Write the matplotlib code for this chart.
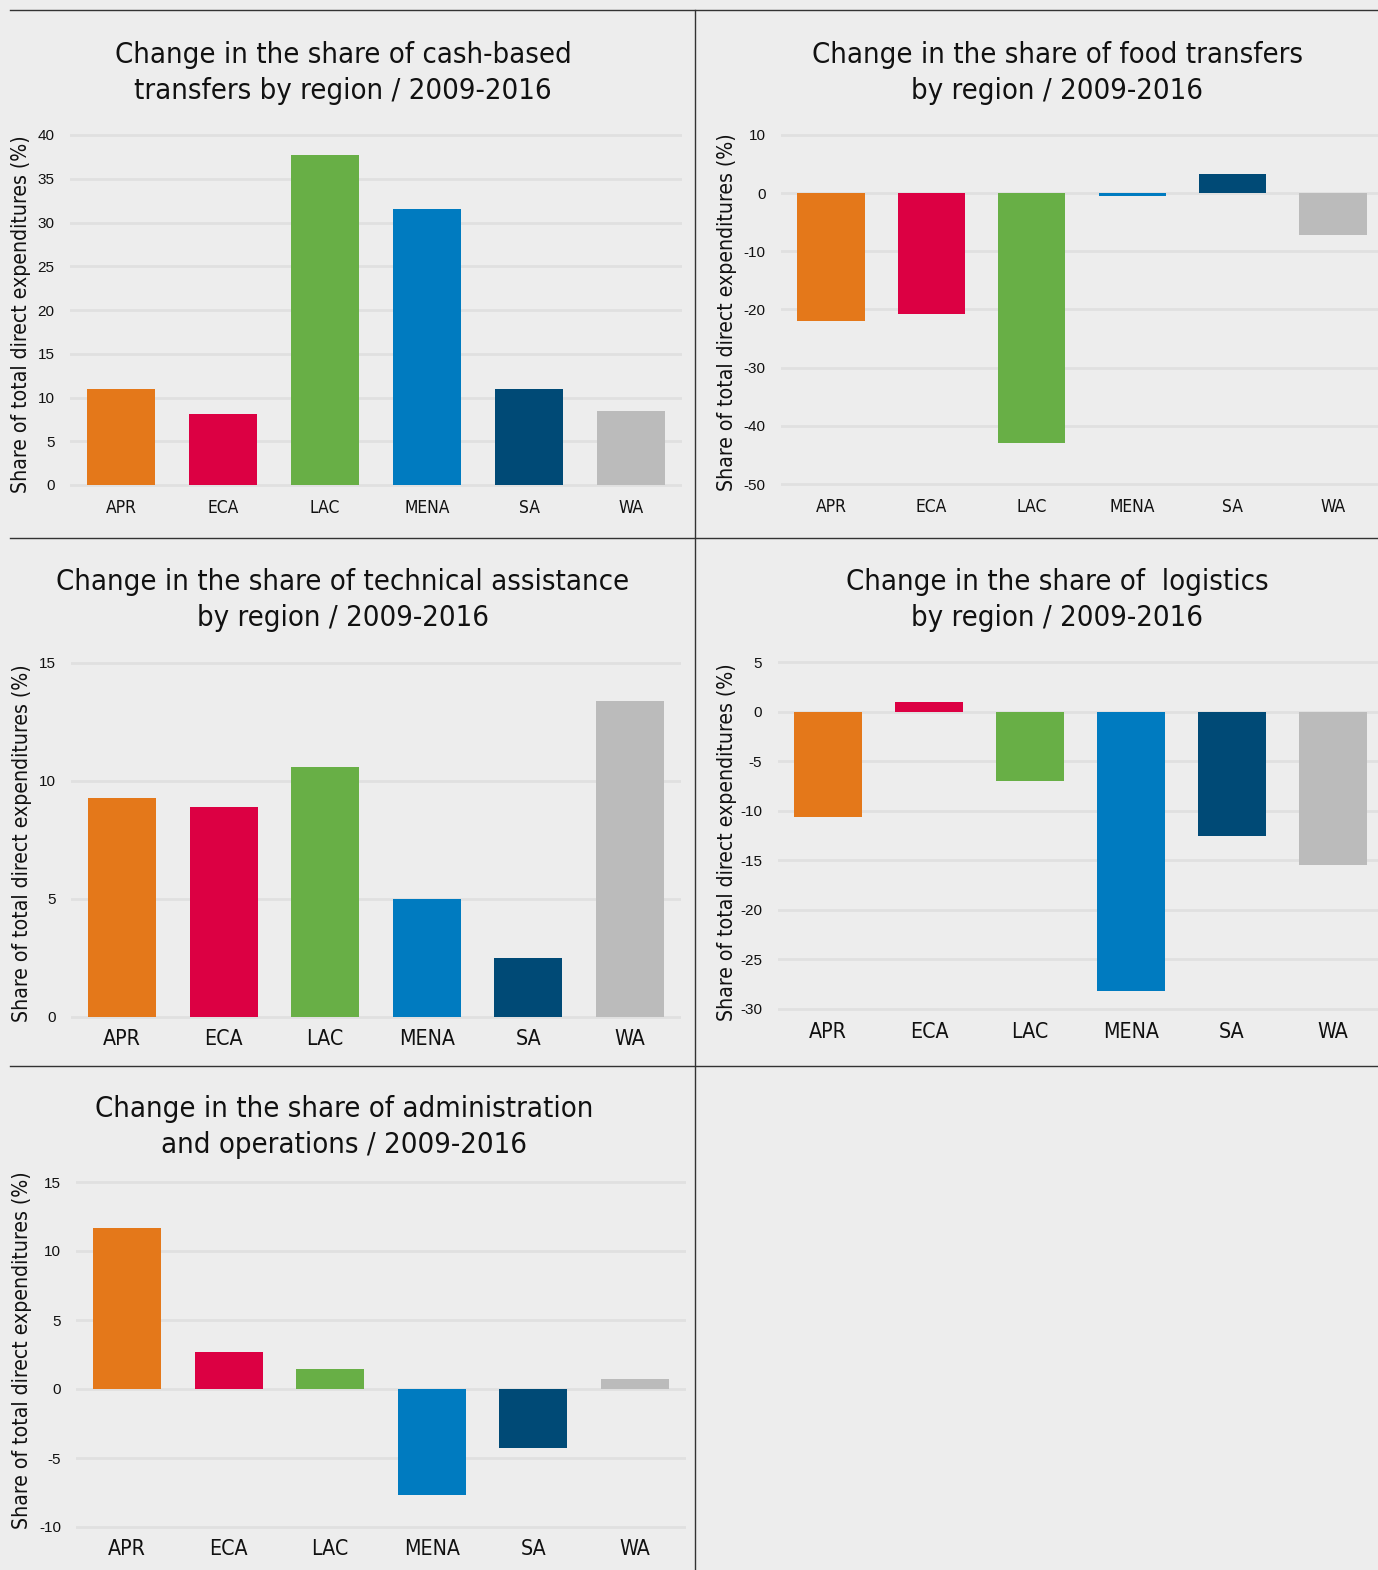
import matplotlib
matplotlib.use('Agg')
import matplotlib.pyplot as plt
from matplotlib.lines import Line2D

# ---------------- data ----------------
regions = ['APR', 'ECA', 'LAC', 'MENA', 'SA', 'WA']
region_colors = ['#E4781A', '#DC0043', '#68AF46', '#007BC0', '#004A76', '#BBBBBB']

cash_based = [11.0, 8.1, 37.7, 31.6, 11.0, 8.5]
food_transfers = [-21.9, -20.7, -42.9, -0.5, 3.3, -7.2]
technical_assistance = [9.3, 8.9, 10.6, 5.0, 2.5, 13.4]
logistics = [-10.6, 1.0, -7.0, -28.2, -12.5, -15.5]
admin_operations = [11.7, 2.7, 1.45, -7.7, -4.3, 0.7]

titles = [
    'Change in the share of cash-based\ntransfers by region / 2009-2016',
    'Change in the share of food transfers\nby region / 2009-2016',
    'Change in the share of technical assistance\nby region / 2009-2016',
    'Change in the share of  logistics\nby region / 2009-2016',
    'Change in the share of administration\nand operations / 2009-2016',
]
ylabel = 'Share of total direct expenditures (%)'

# ---------------- layout ----------------
W, H = 1378, 1570
BG = '#EDEDED'
GRID = '#E0E0E0'
fig = plt.figure(figsize=(W / 100, H / 100), dpi=100, facecolor=BG)

TITLE_FONT = dict(family='DejaVu Sans', stretch='condensed')


def make_axes(x0c, x5c, v_top, p_top, v_bot, p_bot, ylim):
    sp = (x5c - x0c) / 5.0
    left = x0c - 0.5 * sp
    right = x5c + 0.5 * sp
    scale = (p_bot - p_top) / (v_top - v_bot)
    ytop = p_top - (ylim[1] - v_top) * scale
    ybot = p_bot + (v_bot - ylim[0]) * scale
    ax = fig.add_axes([left / W, 1 - ybot / H, (right - left) / W, (ybot - ytop) / H])
    ax.set_xlim(-0.5, 5.5)
    ax.set_ylim(*ylim)
    return ax


panels = [
    dict(data=cash_based, title=titles[0], tx=343, ty=73,
         geom=(121, 631, 40, 135, 0, 485, (-0.6, 40.6)), yticks=range(0, 41, 5),
         xsize=12.5, xpad=6.0, ylx=21, yly=314),
    dict(data=food_transfers, title=titles[1], tx=1057, ty=73,
         geom=(831, 1333, 10, 135, -50, 484, (-51, 11)), yticks=range(-50, 11, 10),
         xsize=12.5, xpad=6.0, ylx=727, yly=312),
    dict(data=technical_assistance, title=titles[2], tx=343, ty=600,
         geom=(122, 630, 15, 663, 0, 1017, (-0.2, 15.2)), yticks=range(0, 16, 5),
         xsize=15.3, xpad=5, ylx=22, yly=843),
    dict(data=logistics, title=titles[3], tx=1057, ty=600,
         geom=(828, 1333, 5, 662, -30, 1009, (-30.5, 5.5)), yticks=range(-30, 6, 5),
         xsize=15.3, xpad=5.5, ylx=727, yly=842),
    dict(data=admin_operations, title=titles[4], tx=344, ty=1127,
         geom=(127, 635, 15, 1182, -10, 1527, (-10.4, 15.4)), yticks=range(-10, 16, 5),
         xsize=15.3, xpad=4.5, ylx=22, yly=1350),
]

xpos = list(range(len(regions)))

for p in panels:
    ax = make_axes(*p['geom'])
    ax.set_facecolor(BG)
    ax.set_axisbelow(True)
    ax.yaxis.grid(True, color=GRID, linewidth=2.0)
    ax.bar(xpos, p['data'], width=0.67, color=region_colors, zorder=3)
    for s in ax.spines.values():
        s.set_visible(False)
    ax.set_yticks(list(p['yticks']))
    ax.set_yticklabels([str(v) for v in p['yticks']], family='Liberation Sans',
                       fontsize=11, color='#111111')
    ax.set_xticks(xpos)
    ax.set_xticklabels(regions, fontsize=p['xsize'], color='#111111', **TITLE_FONT)
    ax.tick_params(axis='y', length=0, pad=11)
    ax.tick_params(axis='x', length=0, pad=p['xpad'])
    fig.text(p['tx'] / W, 1 - p['ty'] / H, p['title'], ha='center', va='center',
             fontsize=21, color='#111111', linespacing=1.32, **TITLE_FONT)
    fig.text(p['ylx'] / W, 1 - p['yly'] / H, ylabel, rotation=90, ha='center',
             va='center', fontsize=15.2, color='#111111', **TITLE_FONT)

# panel border lines
LC = '#333333'
fig.add_artist(Line2D([10 / W, 1], [1 - 10 / H] * 2, color=LC, lw=1.0))
fig.add_artist(Line2D([10 / W, 1], [1 - 538 / H] * 2, color=LC, lw=1.0))
fig.add_artist(Line2D([10 / W, 1], [1 - 1066 / H] * 2, color=LC, lw=1.0))
fig.add_artist(Line2D([695 / W] * 2, [0, 1 - 10 / H], color=LC, lw=1.0))

fig.savefig('out.png', dpi=100, facecolor=BG)
